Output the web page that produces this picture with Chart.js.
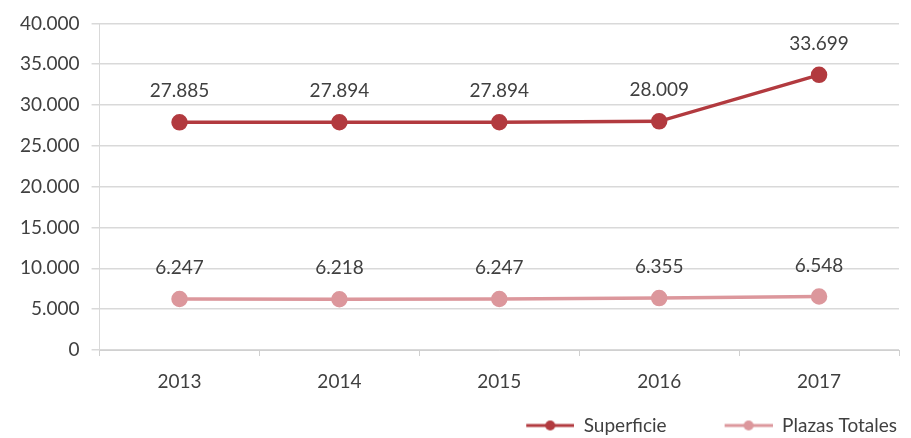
<!DOCTYPE html>
<html><head><meta charset="utf-8">
<script src="https://cdn.jsdelivr.net/npm/chart.js@4.4.0/dist/chart.umd.min.js"></script>
<style>html,body{margin:0;padding:0;background:#fff;}#wrap{width:911px;height:438px;}</style>
</head><body><div id="wrap"><canvas id="c"></canvas></div>
<script>
const categories = ['2013','2014','2015','2016','2017'];
const superficie = [27885, 27894, 27894, 28009, 33699];
const plazasTotales = [6247, 6218, 6247, 6355, 6548];
const yTicks = [0,5000,10000,15000,20000,25000,30000,35000,40000];

const C1 = '#B23A3F', C2 = '#DC979C';
const FONT = 'Lato, "Open Sans", sans-serif';
const fmt = v => v.toString().replace(/\B(?=(\d{3})+(?!\d))/g, '.');

function legendIcon(color){
  const cv = document.createElement('canvas');
  cv.width = 104; cv.height = 14;
  const g = cv.getContext('2d');
  g.strokeStyle = color; g.lineWidth = 3;
  g.beginPath(); g.moveTo(56,7); g.lineTo(104,7); g.stroke();
  g.fillStyle = color; g.beginPath(); g.arc(80,7,5,0,Math.PI*2); g.fill();
  return cv;
}

const labelPlugin = {
  id: 'vals',
  afterDatasetsDraw(chart){
    const ctx = chart.ctx;
    ctx.save();
    ctx.font = '19px ' + FONT;
    ctx.fillStyle = '#404040';
    ctx.textAlign = 'center';
    ctx.textBaseline = 'middle';
    chart.data.datasets.forEach((ds, i) => {
      chart.getDatasetMeta(i).data.forEach((pt, j) => {
        ctx.fillText(fmt(ds.data[j]), pt.x, pt.y - 31);
      });
    });
    ctx.restore();
  }
};

new Chart(document.getElementById('c'), {
  type: 'line',
  data: {
    labels: categories,
    datasets: [
      {label:'Superficie', data: superficie, borderColor: C1, backgroundColor: C1, borderWidth: 3.5, pointRadius: 6.5, pointHoverRadius: 6.5, pointStyle: 'circle', tension: 0},
      {label:'Plazas Totales', data: plazasTotales, borderColor: C2, backgroundColor: C2, borderWidth: 3.5, pointRadius: 6.5, pointHoverRadius: 6.5, pointStyle: 'circle', tension: 0}
    ]
  },
  options: {
    responsive: true, maintainAspectRatio: false, animation: false,
    layout: {padding: {left: 8, right: 12, top: 10, bottom: -7}},
    plugins: {
      tooltip: {enabled: false},
      legend: {
        position: 'bottom', align: 'end',
        labels: {
          usePointStyle: true, pointStyleWidth: 104, boxHeight: 14, color: '#404040',
          font: {family: FONT, size: 19},
          padding: 2,
          generateLabels(chart){
            return chart.data.datasets.map((ds,i) => ({
              text: ds.label, pointStyle: legendIcon(ds.borderColor), fillStyle: ds.borderColor,
              strokeStyle: ds.borderColor, lineWidth: 0, datasetIndex: i, hidden: false, fontColor: '#404040'
            }));
          }
        }
      }
    },
    scales: {
      x: {
        offset: true,
        afterFit(ax){ ax.height = 64; },
        grid: {offset: true, drawOnChartArea: false, drawTicks: true, tickLength: 6, color: '#d0d0d0'},
        border: {display: true, color: '#d0d0d0', width: 1},
        ticks: {color: '#404040', font: {family: FONT, size: 19}, padding: 14}
      },
      y: {
        min: 0, max: 40000,
        afterBuildTicks(ax){ ax.ticks = yTicks.map(v => ({value: v})); },
        grid: {color: '#d9d9d9', lineWidth: 1.5, tickLength: 8},
        border: {display: true, color: '#d9d9d9'},
        ticks: {color: '#404040', font: {family: FONT, size: 19}, padding: 12, callback: v => fmt(v)}
      }
    }
  },
  plugins: [labelPlugin]
});
</script></body></html>
